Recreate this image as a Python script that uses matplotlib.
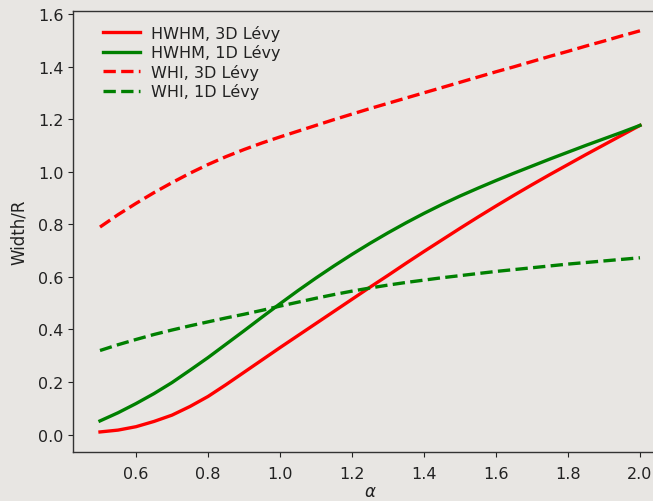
import matplotlib
matplotlib.use("Agg")
import matplotlib.pyplot as plt
import numpy as np

# stability index of the Levy distribution
alpha = [0.50, 0.55, 0.60, 0.65, 0.70, 0.75, 0.80, 0.85, 0.90, 0.95,
         1.00, 1.05, 1.10, 1.15, 1.20, 1.25, 1.30, 1.35, 1.40, 1.45,
         1.50, 1.55, 1.60, 1.65, 1.70, 1.75, 1.80, 1.85, 1.90, 1.95, 2.00]

# widths in units of the scale parameter R
hwhm_3d = [0.010, 0.017, 0.030, 0.050, 0.074, 0.107, 0.145, 0.190, 0.237, 0.284,
           0.331, 0.377, 0.423, 0.469, 0.515, 0.561, 0.606, 0.652, 0.697, 0.741,
           0.785, 0.828, 0.870, 0.911, 0.951, 0.990, 1.028, 1.066, 1.103, 1.140, 1.177]
hwhm_1d = [0.052, 0.083, 0.118, 0.156, 0.198, 0.245, 0.293, 0.344, 0.395, 0.447,
           0.498, 0.548, 0.596, 0.642, 0.686, 0.728, 0.768, 0.806, 0.842, 0.876,
           0.908, 0.938, 0.967, 0.995, 1.022, 1.049, 1.075, 1.101, 1.126, 1.151, 1.177]
whi_3d = [0.790, 0.837, 0.880, 0.921, 0.959, 0.995, 1.028, 1.058, 1.085, 1.110,
          1.133, 1.155, 1.177, 1.199, 1.220, 1.241, 1.261, 1.281, 1.301, 1.321,
          1.341, 1.361, 1.381, 1.400, 1.420, 1.440, 1.459, 1.479, 1.498, 1.518, 1.537]
whi_1d = [0.320, 0.342, 0.362, 0.381, 0.398, 0.414, 0.429, 0.444, 0.458, 0.473,
          0.489, 0.504, 0.519, 0.533, 0.546, 0.558, 0.569, 0.579, 0.588, 0.597,
          0.605, 0.613, 0.621, 0.628, 0.635, 0.642, 0.649, 0.655, 0.661, 0.667, 0.673]

bg = "#e8e6e3"
ink = "#222222"

plt.rcParams["font.family"] = "DejaVu Sans"
plt.rcParams["font.size"] = 11.5
plt.rcParams["text.color"] = ink
plt.rcParams["axes.labelcolor"] = ink
plt.rcParams["xtick.color"] = ink
plt.rcParams["ytick.color"] = ink
plt.rcParams["axes.edgecolor"] = "#333333"
plt.rcParams["axes.linewidth"] = 1.0
plt.rcParams["xtick.major.pad"] = 6.5

fig = plt.figure(figsize=(6.53, 5.02), dpi=100, facecolor=bg)
# axes run past the right edge of the canvas
ax = fig.add_axes([0.1118, 0.0976, 0.9096, 0.879], facecolor=bg)

lw = 2.4
ax.plot(alpha, hwhm_3d, color="red", lw=lw, label="HWHM, 3D Lévy")
ax.plot(alpha, hwhm_1d, color="green", lw=lw, label="HWHM, 1D Lévy")
ax.plot(alpha, whi_3d, "--", color="red", lw=lw, label="WHI, 3D Lévy")
ax.plot(alpha, whi_1d, "--", color="green", lw=lw, label="WHI, 1D Lévy")

ax.set_xticks(np.arange(0.6, 2.01, 0.2))
ax.set_yticks(np.arange(0.0, 1.61, 0.2))
ax.set_xlabel(r"$\alpha$", fontsize=12, labelpad=1)
ax.set_ylabel("Width/R", fontsize=12, labelpad=7)
ax.spines["right"].set_visible(False)

ax.legend(loc="upper left", bbox_to_anchor=(0.027, 1.0), borderaxespad=0.48,
          frameon=False, handlelength=2.3, labelspacing=0.22, handletextpad=0.72)

fig.savefig("out.png", dpi=100, facecolor=bg)
